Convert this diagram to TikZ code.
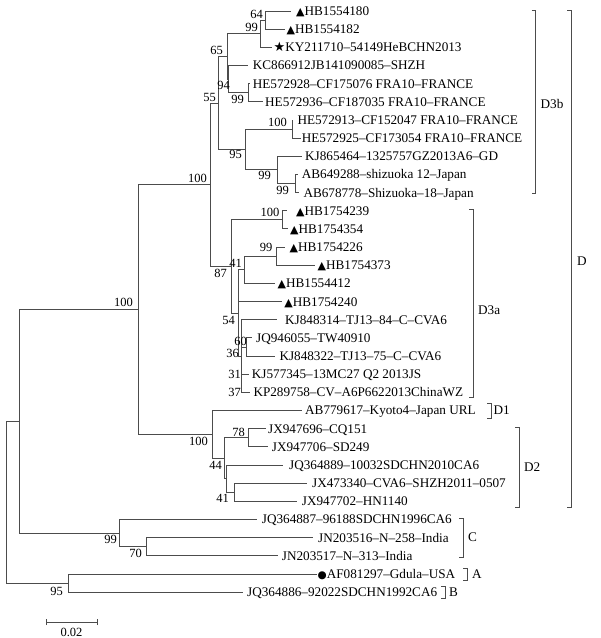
\documentclass[tikz,border=0pt]{standalone}
\usepackage{fontspec}
\setmainfont{Liberation Serif}
\newfontfamily\symf{DejaVu Sans}
\newcommand\tri{{\symf\fontsize{11}{11}\selectfont ▲}}
\newcommand\starsym{{\symf\fontsize{13}{13}\selectfont ★}}
\newcommand\dotsym{{\symf\fontsize{10.5}{10.5}\selectfont ●}}
% leaf: name, parent, tip x, y, text x, text
\newcommand\lf[6]{\coordinate (#1t) at (#3,#4); \node[leaf] (#1) at (#5,#4) {#6}; \draw[br] (#2) |- (#1t);}
% clade bracket: name, x, y1, y2, label x, label y, text
\newcommand\clade[7]{\draw[br] (#2-4,#3) -- (#2,#3) -- (#2,#4) -- (#2-4,#4); \node[cl] (#1) at (#5,#6) {#7};}
\begin{document}
\begin{tikzpicture}[x=1pt,y=-1pt,
  br/.style={draw=black!70, line width=1pt},
  leaf/.style={anchor=west, inner sep=0pt, text height=8.8pt, text depth=0pt, font=\fontsize{13.2}{14}\selectfont},
  bs/.style={anchor=east, inner sep=0pt, text height=8.5pt, text depth=0pt, font=\fontsize{12.5}{13}\selectfont},
  cl/.style={anchor=west, inner sep=0pt, text height=8.8pt, text depth=0pt, font=\fontsize{13.2}{14}\selectfont}]
\fill[white] (0,0) rectangle (601,638);
\path[use as bounding box] (0,0) rectangle (601,638);

% internal nodes
\coordinate (root) at (6,502.2);
\coordinate (nX) at (19,421.3);
\coordinate (nY) at (68,583.1);
\coordinate (nU) at (138,309.5);
\coordinate (nW) at (119,533.1);
\coordinate (nV) at (146,546.7);
\coordinate (nO) at (210,184.7);
\coordinate (nT) at (212,434.4);
\coordinate (nG) at (218,103.0);
\coordinate (nN) at (231,266.5);
\coordinate (nC) at (227,56.4);
\coordinate (nF) at (245,149.5);
\coordinate (nA99) at (260,33.7);
\coordinate (nA64) at (265,20.1);
\coordinate (nB94) at (228,79.1);
\coordinate (nB99) at (248,92.7);
\coordinate (nD) at (292,129.1);
\coordinate (nE) at (277,169.9);
\coordinate (nEi) at (295,183.5);
\coordinate (nH) at (282.7,219.9);
\coordinate (nM) at (238,313.0);
\coordinate (nJ) at (244,269.8);
\coordinate (nI) at (276,256.2);
\coordinate (nK) at (241,356.1);
\coordinate (nL) at (246,347.0);
\coordinate (nS) at (224,458.2);
\coordinate (nP) at (248,437.8);
\coordinate (nR) at (226,478.6);
\coordinate (nQ) at (234,492.2);

% internal branches
\draw[br] (root) |- (nX);
\draw[br] (root) |- (nY);
\draw[br] (nX) |- (nU);
\draw[br] (nX) |- (nW);
\draw[br] (nU) |- (nO);
\draw[br] (nU) |- (nT);
\draw[br] (nO) |- (nG);
\draw[br] (nO) |- (nN);
\draw[br] (nG) |- (nC);
\draw[br] (nG) |- (nF);
\draw[br] (nC) |- (nA99);
\draw[br] (nC) |- (nB94);
\draw[br] (nA99) |- (nA64);
\draw[br] (nB94) |- (nB99);
\draw[br] (nF) |- (nD);
\draw[br] (nF) |- (nE);
\draw[br] (nE) |- (nEi);
\draw[br] (nN) |- (nH);
\draw[br] (nN) |- (nM);
\draw[br] (nM) |- (nJ);
\draw[br] (nM) |- (nK);
\draw[br] (nJ) |- (nI);
\draw[br] (nK) |- (nL);
\draw[br] (nT) |- (nS);
\draw[br] (nS) |- (nP);
\draw[br] (nS) |- (nR);
\draw[br] (nR) |- (nQ);
\draw[br] (nW) |- (nV);

% leaves
\lf{l1}{nA64}{290.7}{11.0}{296}{\tri HB1554180}
\lf{l2}{nA64}{285}{29.2}{286.5}{\tri HB1554182}
\lf{l3}{nA99}{271.7}{47.3}{273.5}{\starsym KY211710–54149HeBCHN2013}
\lf{l4}{nB94}{248.3}{65.5}{252.7}{KC866912JB141090085–SHZH}
\lf{l5}{nB99}{250}{83.6}{252.7}{HE572928–CF175076 FRA10–FRANCE}
\lf{l6}{nB99}{263.3}{101.8}{265}{HE572936–CF187035 FRA10–FRANCE}
\lf{l7}{nD}{293}{120.0}{297.3}{HE572913–CF152047 FRA10–FRANCE}
\lf{l8}{nD}{300.5}{138.1}{301.7}{HE572925–CF173054 FRA10–FRANCE}
\lf{l9}{nE}{301.7}{156.3}{305}{KJ865464–1325757GZ2013A6–GD}
\lf{l10}{nEi}{297.5}{174.4}{301.7}{AB649288–shizuoka 12–Japan}
\lf{l11}{nEi}{298.5}{192.6}{303.3}{AB678778–Shizuoka–18–Japan}
\lf{l12}{nH}{287.3}{210.8}{296}{\tri HB1754239}
\lf{l13}{nH}{288.3}{228.9}{290}{\tri HB1754354}
\lf{l14}{nI}{285}{247.1}{289.5}{\tri HB1754226}
\lf{l15}{nI}{315}{265.2}{317.5}{\tri HB1754373}
\lf{l16}{nJ}{275}{283.4}{277.5}{\tri HB1554412}
\lf{l17}{nM}{281.7}{301.6}{284.2}{\tri HB1754240}
\lf{l18}{nK}{276.7}{319.7}{285}{KJ848314–TJ13–84–C–CVA6}
\lf{l19}{nL}{251.7}{337.9}{256}{JQ946055–TW40910}
\lf{l20}{nL}{275}{356.0}{279.3}{KJ848322–TJ13–75–C–CVA6}
\lf{l21}{nK}{249}{374.2}{251.7}{KJ577345–13MC27 Q2 2013JS}
\lf{l22}{nK}{250}{392.4}{253.3}{KP289758–CV–A6P6622013ChinaWZ}
\lf{l23}{nT}{301.7}{410.5}{305}{AB779617–Kyoto4–Japan URL}
\lf{l24}{nP}{265.7}{428.7}{268}{JX947696–CQ151}
\lf{l25}{nP}{268}{446.8}{271.7}{JX947706–SD249}
\lf{l26}{nR}{283}{465.0}{289}{JQ364889–10032SDCHN2010CA6}
\lf{l27}{nQ}{306.7}{483.2}{312}{JX473340–CVA6–SHZH2011–0507}
\lf{l28}{nQ}{296.7}{501.3}{301.7}{JX947702–HN1140}
\lf{l29}{nW}{256.7}{519.5}{261.7}{JQ364887–96188SDCHN1996CA6}
\lf{l30}{nV}{313}{537.6}{318}{JN203516–N–258–India}
\lf{l31}{nV}{278}{555.8}{281.7}{JN203517–N–313–India}
\lf{l32}{nY}{316.7}{574.0}{317.5}{\dotsym AF081297–Gdula–USA}
\lf{l33}{nY}{243}{592.1}{247}{JQ364886–92022SDCHN1992CA6}

% bootstrap values
\node[bs] (b64) at (263,14) {64};
\node[bs] (bA99) at (258,27) {99};
\node[bs] (b65) at (223,50) {65};
\node[bs] (b94) at (230,85) {94};
\node[bs] (bB99) at (244,99) {99};
\node[bs] (b55) at (216,97) {55};
\node[bs] (bD100) at (287,122) {100};
\node[bs] (b95) at (242,154) {95};
\node[bs] (bE99) at (271,175) {99};
\node[bs] (bEi99) at (289,190) {99};
\node[bs] (bO100) at (207,178) {100};
\node[bs] (bU100) at (133,302) {100};
\node[bs] (b87) at (227,273) {87};
\node[bs] (bH100) at (279.5,212.7) {100};
\node[bs] (bI99) at (272.5,247) {99};
\node[bs] (bJ41) at (242,263) {41};
\node[bs] (b54) at (235,320) {54};
\node[bs] (b60) at (247,341.5) {60};
\node[bs] (b36) at (239,353) {36};
\node[bs] (b31) at (241,374) {31};
\node[bs] (b37) at (241,392.5) {37};
\node[bs] (bT100) at (208,441) {100};
\node[bs] (b78) at (245,432) {78};
\node[bs] (b44) at (222,465) {44};
\node[bs] (bQ41) at (229,498) {41};
\node[bs] (bW99) at (117,539) {99};
\node[bs] (b70) at (142,553) {70};
\node[bs] (bY95) at (63,591) {95};

% clade brackets
\clade{cD3b}{535.5}{10}{193}{540.5}{104}{D3b}
\clade{cD}{571}{10}{507}{577}{261}{D}
\clade{cD3a}{473}{209}{397}{478}{310}{D3a}
\clade{cD1}{491}{403}{418}{493.5}{410.5}{D1}
\clade{cD2}{519}{427}{507}{524}{467}{D2}
\clade{cC}{463}{518}{557}{468}{537}{C}
\clade{cA}{467}{568}{580}{472}{574}{A}
\clade{cB}{445}{586}{598}{449}{592}{B}

% scale bar
\coordinate (s1) at (46,622);
\coordinate (s2) at (97,622);
\draw[br] (s1) -- (s2);
\draw[br] ([yshift=-3pt]s1) -- ([yshift=3pt]s1);
\draw[br] ([yshift=-3pt]s2) -- ([yshift=3pt]s2);
\node[bs, anchor=center] (sl) at (71.5,632) {0.02};
\end{tikzpicture}
\end{document}
